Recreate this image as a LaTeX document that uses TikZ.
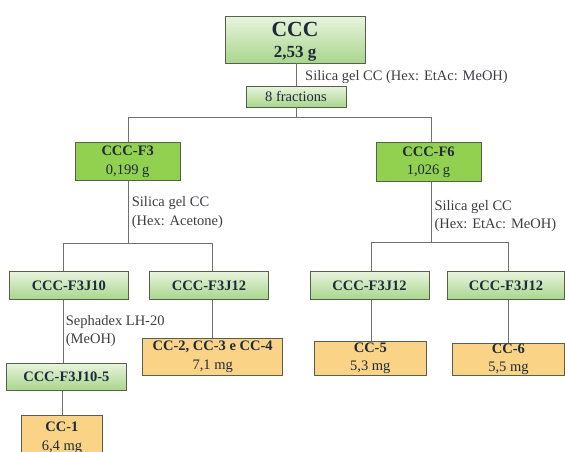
\documentclass[tikz,border=0pt]{standalone}
\usepackage{fontspec}
\setmainfont{Liberation Serif}
\definecolor{gtop}{HTML}{E9F4DE}
\definecolor{gbot}{HTML}{A8D68C}
\definecolor{gsolid}{HTML}{92D050}
\definecolor{orfill}{HTML}{FAD386}
\definecolor{bordc}{HTML}{55604F}
\definecolor{txtc}{HTML}{1E2A3A}
\definecolor{lblc}{HTML}{3C3C44}
\definecolor{linec}{HTML}{707070}
\begin{document}
\begin{tikzpicture}[x=1pt,y=-1pt,
  basebox/.style={draw=bordc, line width=0.9pt, text=txtc, align=center, inner sep=0pt,
    font=\fontsize{14.5}{18.5}\selectfont},
  gbox/.style={basebox, top color=gtop, bottom color=gbot},
  sbox/.style={basebox, fill=gsolid},
  obox/.style={basebox, fill=orfill},
  conn/.style={draw=linec, line width=0.9pt},
  lbl/.style={text=lblc, align=left, anchor=north west, inner sep=0pt,
    font=\fontsize{14.5}{18.5}\selectfont}]
\useasboundingbox (0,0) rectangle (565,451);
% boxes
\node[gbox, minimum width=140pt, minimum height=47pt] (ccc) at (295,39.5)
  {\rule{0pt}{18.3pt}{\fontsize{21.6}{24}\selectfont\bfseries CCC}\\[2.6pt]{\fontsize{17}{20}\selectfont\bfseries 2,53 g}};
\node[gbox, minimum width=100pt, minimum height=21pt] (frac) at (296,96.5) {8 fractions};
\node[sbox, minimum width=105.3pt, minimum height=38pt] (f3) at (127.7,161.7) {\textbf{CCC-F3}\\0,199 g};
\node[sbox, minimum width=105pt, minimum height=39pt] (f6) at (428.5,162.2) {\textbf{CCC-F6}\\1,026 g};
\node[gbox, minimum width=119pt, minimum height=27.6pt] (j10) at (68.8,285.5) {\textbf{CCC-F3J10}};
\node[gbox, minimum width=119pt, minimum height=27.6pt] (j12a) at (209,285.5) {\textbf{CCC-F3J12}};
\node[gbox, minimum width=119pt, minimum height=27.6pt] (j12b) at (369.5,285.5) {\textbf{CCC-F3J12}};
\node[gbox, minimum width=117pt, minimum height=27.6pt] (j12c) at (506,285.5) {\textbf{CCC-F3J12}};
\node[gbox, minimum width=119.3pt, minimum height=27.3pt] (j105) at (66.4,376.7) {\textbf{CCC-F3J10-5}};
\node[obox, minimum width=81.7pt, minimum height=45pt, anchor=north] (cc1) at (61.9,415) {\textbf{CC-1}\\6,4 mg};
\node[obox, minimum width=140pt, minimum height=37pt] (cc2) at (212.7,356.8) {\textbf{CC-2, CC-3 e CC-4}\\7,1 mg};
\node[obox, minimum width=111.3pt, minimum height=34.3pt] (cc5) at (370.3,358.2) {\textbf{CC-5}\\5,3 mg};
\node[obox, minimum width=112pt, minimum height=32pt] (cc6) at (508.4,359.3) {\textbf{CC-6}\\5,5 mg};
% junctions
\coordinate (t1) at (296,117);
\coordinate (t1l) at (128.3,117);
\coordinate (t1r) at (431.7,117);
\coordinate (t2) at (128.3,243.3);
\coordinate (t2l) at (63.3,243.3);
\coordinate (t2r) at (212.7,243.3);
\coordinate (t3) at (431.7,242.7);
\coordinate (t3l) at (371,242.7);
\coordinate (t3r) at (508.7,242.7);
\coordinate (v5) at (62.7,0);
% connectors
\draw[conn] (ccc.south -| frac.north) -- (frac.north);
\draw[conn] (frac.south -| t1) -- (t1);
\draw[conn] (t1l) -- (t1r);
\draw[conn] (t1l) -- (t1l |- f3.north);
\draw[conn] (t1r) -- (t1r |- f6.north);
\draw[conn] (t2 |- f3.south) -- (t2);
\draw[conn] (t2l) -- (t2r);
\draw[conn] (t2l) -- (t2l |- j10.north);
\draw[conn] (t2r) -- (t2r |- j12a.north);
\draw[conn] (t3 |- f6.south) -- (t3);
\draw[conn] (t3l) -- (t3r);
\draw[conn] (t3l) -- (t3l |- j12b.north);
\draw[conn] (t3r) -- (t3r |- j12c.north);
\draw[conn] (t2l |- j10.south) -- (t2l |- j105.north);
\draw[conn] (v5 |- j105.south) -- (v5 |- cc1.north);
\draw[conn] (t2r |- j12a.south) -- (t2r |- cc2.north);
\draw[conn] (t3l |- j12b.south) -- (t3l |- cc5.north);
\draw[conn] (t3r |- j12c.south) -- (t3r |- cc6.north);
% labels
\node[lbl, anchor=west] (l1) at (305,76.7) {Silica gel CC (Hex: EtAc: MeOH)};
\node[lbl] (l2) at (131.7,196.5) {Silica gel CC\\(Hex: Acetone)};
\node[lbl] (l3) at (434.3,199.8) {Silica gel CC\\(Hex: EtAc: MeOH)};
\node[lbl] (l4) at (65.7,314.8) {Sephadex LH-20\\(MeOH)};
\end{tikzpicture}
\end{document}
